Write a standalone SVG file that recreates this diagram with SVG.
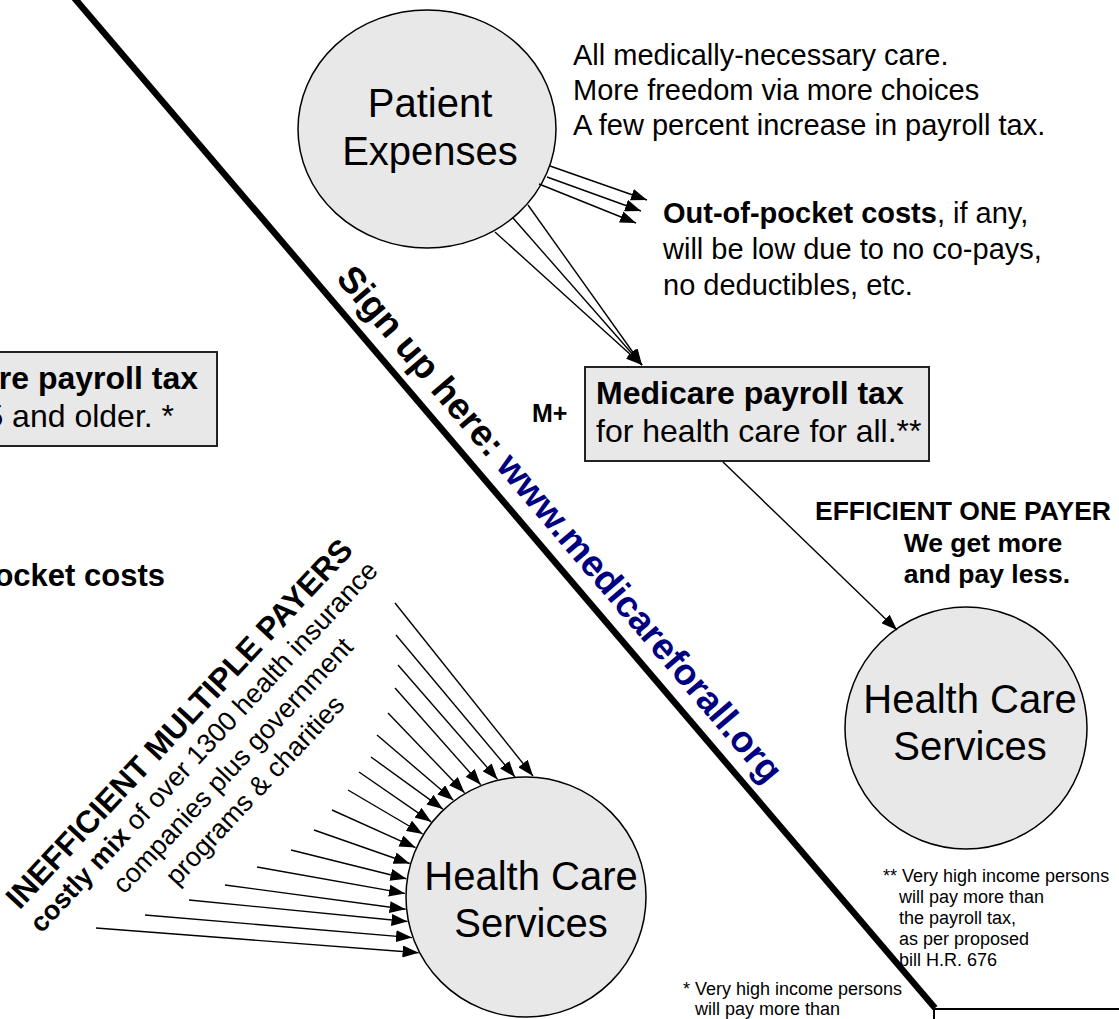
<svg xmlns="http://www.w3.org/2000/svg" width="1119" height="1019" viewBox="0 0 1119 1019">
<defs>
<marker id="ah" markerUnits="userSpaceOnUse" markerWidth="16" markerHeight="12" viewBox="0 0 16 12" refX="16" refY="6" orient="auto"><path d="M0,0 L16,6 L0,12 z" fill="#000"/></marker>
<style>
text{font-family:"Liberation Sans",Arial,Helvetica,sans-serif;fill:#000}
.node{fill:#e8e8e8;stroke:#000;stroke-width:1.5}
.box{fill:#e8e8e8;stroke:#222;stroke-width:2}
.big{font-size:40px;text-anchor:middle}
.t29{font-size:29px}
.bx{font-size:32px}
.b{font-weight:bold}
.fn{font-size:18px}
.conn line{stroke:#000;stroke-width:1.4;marker-end:url(#ah)}
</style>
</defs>
<rect width="1119" height="1019" fill="#fff"/>

<g id="patient-expenses">
<ellipse class="node" cx="427" cy="129" rx="129" ry="119"/>
<text class="big" x="430" y="117">Patient</text>
<text class="big" x="430" y="165">Expenses</text>
</g>

<g id="benefits-text">
<text class="t29" x="573" y="65">All medically-necessary care.</text>
<text class="t29" x="573" y="100">More freedom via more choices</text>
<text class="t29" x="573" y="135">A few percent increase in payroll tax.</text>
</g>

<g id="out-of-pocket">
<text class="t29" x="663" y="223"><tspan font-weight="bold">Out-of-pocket costs</tspan>, if any,</text>
<text class="t29" x="663" y="259">will be low due to no co-pays,</text>
<text class="t29" x="663" y="295">no deductibles, etc.</text>
</g>

<g id="medicare-box">
<rect class="box" x="585" y="367" width="344" height="94"/>
<text class="bx b" x="596" y="404">Medicare payroll tax</text>
<text class="bx" x="596" y="442">for health care for all.**</text>
</g>

<g id="m-plus"><text x="532" y="422" font-size="25" font-weight="bold">M+</text></g>

<g id="efficient-label">
<text x="815" y="520" font-size="26.5" font-weight="bold">EFFICIENT ONE PAYER</text>
<text x="983" y="552" font-size="26.5" font-weight="bold" text-anchor="middle">We get more</text>
<text x="987" y="583" font-size="26.5" font-weight="bold" text-anchor="middle">and pay less.</text>
</g>

<g id="hcs-right">
<circle class="node" cx="966" cy="728" r="121"/>
<text class="big" x="970" y="713">Health Care</text>
<text class="big" x="970" y="760">Services</text>
</g>

<g id="hcs-left">
<circle class="node" cx="526" cy="897" r="120"/>
<text class="big" x="531" y="890">Health Care</text>
<text class="big" x="531" y="937">Services</text>
</g>

<g id="medicare-65-box">
<rect class="box" x="-20" y="352" width="237" height="94"/>
<text class="bx b" x="198" y="389" text-anchor="end">re payroll tax</text>
<text class="bx" x="174" y="427" text-anchor="end">5 and older. *</text>
</g>

<g id="left-out-of-pocket"><text x="165" y="586" font-size="31" font-weight="bold" text-anchor="end">ocket costs</text></g>

<g id="multiple-payers" transform="translate(187,731) rotate(-47)">
<text x="0" y="0" text-anchor="middle" font-size="31.5" font-weight="bold">INEFFICIENT MULTIPLE PAYERS</text>
<text x="0" y="32" text-anchor="middle" font-size="27"><tspan font-weight="bold">costly mix</tspan> of over 1300 health insurance</text>
<text x="6" y="66" text-anchor="middle" font-size="27">companies plus government</text>
<text x="3" y="99" text-anchor="middle" font-size="27">programs &amp; charities</text>
</g>

<g id="footnote-2">
<text class="fn" x="883" y="882">** Very high income persons</text>
<text class="fn" x="899" y="903">will pay more than</text>
<text class="fn" x="899" y="924">the payroll tax,</text>
<text class="fn" x="899" y="945">as per proposed</text>
<text class="fn" x="899" y="966">bill H.R. 676</text>
</g>

<g id="footnote-1">
<text class="fn" x="683" y="995">* Very high income persons</text>
<text class="fn" x="695" y="1015">will pay more than</text>
</g>

<g id="signup">
<text transform="translate(335,279) rotate(49.6)" font-size="37" font-weight="bold">Sign up here: <tspan fill="#000080">www.medicareforall.org</tspan></text>
</g>

<g id="connectors" class="conn">
<line x1="550" y1="166" x2="647" y2="200"/>
<line x1="547" y1="177" x2="641" y2="211"/>
<line x1="539" y1="184" x2="636" y2="223"/>
<line x1="528" y1="205" x2="642" y2="365"/>
<line x1="513" y1="218" x2="642" y2="365"/>
<line x1="495" y1="232" x2="642" y2="365"/>
<line x1="723" y1="462" x2="897" y2="630"/>
<line x1="395" y1="603" x2="533" y2="776"/>
<line x1="396" y1="635" x2="515" y2="777"/>
<line x1="398" y1="665" x2="497.6" y2="779.4"/>
<line x1="395" y1="688" x2="480.7" y2="784.8"/>
<line x1="388" y1="713" x2="464.5" y2="792.7"/>
<line x1="377" y1="735" x2="453.4" y2="800.2"/>
<line x1="371" y1="757" x2="442.9" y2="809.1"/>
<line x1="359" y1="772" x2="431.2" y2="821.8"/>
<line x1="348" y1="790" x2="422.7" y2="834"/>
<line x1="332" y1="810" x2="415.5" y2="847.6"/>
<line x1="314" y1="830" x2="409.7" y2="863.5"/>
<line x1="291" y1="850" x2="406.4" y2="878.7"/>
<line x1="257" y1="867" x2="405" y2="893.4"/>
<line x1="225" y1="885" x2="405.6" y2="909.2"/>
<line x1="189" y1="900" x2="407.5" y2="921.5"/>
<line x1="145" y1="915" x2="412" y2="937.6"/>
<line x1="96" y1="928" x2="418.6" y2="952.7"/>
</g>

<g id="divider" stroke="#000" fill="none">
<line x1="67.5" y1="-10" x2="935" y2="1008" stroke-width="6.5"/>
<line x1="934" y1="1009" x2="1119" y2="1009" stroke-width="2"/>
<line x1="934" y1="1009" x2="934" y2="1019" stroke-width="2"/>
</g>
</svg>
